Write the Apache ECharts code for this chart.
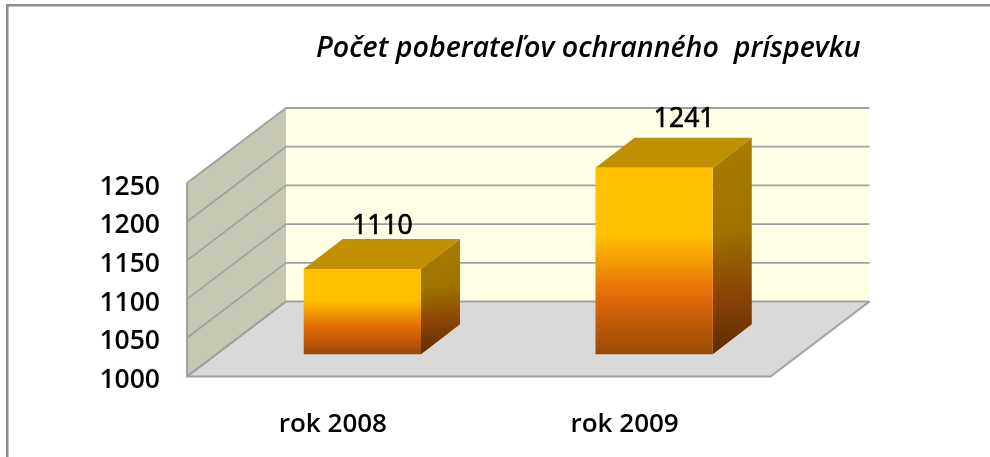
<!DOCTYPE html>
<html><head><meta charset="utf-8">
<style>html,body{margin:0;padding:0;background:#fff}#c{width:990px;height:457px}</style>
<script src="https://cdn.jsdelivr.net/npm/echarts@6/dist/echarts.min.js"></script>
</head><body><div id="c"></div>
<script>
const categories = ['rok 2008', 'rok 2009'];
const values = [1110, 1241];
const yTicks = [1000, 1050, 1100, 1150, 1200, 1250];
const titleText = 'Počet poberateľov ochranného  príspevku';

const FONT = '"Open Sans", "Noto Sans", sans-serif';
const WALL = { dx: 99, dy: -75 };
const BAR = { ox: 29.5, oy: -22.3, dx: 39, dy: -30, frac: 0.402 };
const LINE = { stroke: '#a0a0a0', lineWidth: 1.8 };
const LABEL_OFFSET = [[20, -44], [30, -49]];

function poly(pts, style, z2) {
  return { type: 'polygon', shape: { points: pts }, style: style, z2: z2 || 0, silent: true };
}
function wallsItem(params, api) {
  const cs = params.coordSys;
  const l = cs.x, r = cs.x + cs.width, t = cs.y, b = cs.y + cs.height;
  const d = WALL;
  return { type: 'group', children: [
    poly([[l + d.dx, t + d.dy], [r + d.dx, t + d.dy], [r + d.dx, b + d.dy], [l + d.dx, b + d.dy]], { fill: '#ffffe5' }),
    poly([[l, t], [l + d.dx, t + d.dy], [l + d.dx, b + d.dy], [l, b]], { fill: '#c7c8b4' }),
    poly([[l, b], [l + d.dx, b + d.dy], [r + d.dx, b + d.dy], [r, b]], { fill: '#d9d9d9' }),
    { type: 'polyline', silent: true, shape: { points: [[l, t], [l, b], [r, b], [r + d.dx, b + d.dy]] }, style: { fill: 'none', stroke: LINE.stroke, lineWidth: 2 }, z2: 2 },
    { type: 'line', silent: true, shape: { x1: l, y1: b, x2: l + d.dx, y2: b + d.dy }, style: LINE, z2: 2 }
  ]};
}
function gridItem(params, api) {
  const cs = params.coordSys;
  const y = api.coord([0, api.value(1)])[1];
  const l = cs.x, r = cs.x + cs.width, d = WALL;
  return { type: 'polyline', silent: true, shape: { points: [[l, y], [l + d.dx, y + d.dy], [r + d.dx, y + d.dy]] },
    style: { fill: 'none', stroke: LINE.stroke, lineWidth: LINE.lineWidth }, z2: 1 };
}
function barItem(params, api) {
  const i = api.value(0), v = api.value(1);
  const c = api.coord([i, v]), base = api.coord([i, yTicks[0]]);
  const w = api.size([1, 0])[0] * BAR.frac;
  const x0 = c[0] - w / 2 + BAR.ox, x1 = x0 + w;
  const yt = c[1] + BAR.oy, yb = base[1] + BAR.oy;
  const dx = BAR.dx, dy = BAR.dy;
  const front = { type: 'linear', x: 0, y: 0, x2: 0, y2: 1, colorStops: [
    { offset: 0, color: '#ffc000' }, { offset: 0.36, color: '#ffc000' },
    { offset: 0.68, color: '#e46c0a' }, { offset: 1, color: '#984807' }] };
  const side = { type: 'linear', x: 0, y: 0, x2: 0.25, y2: 1, colorStops: [
    { offset: 0, color: '#a87d00' }, { offset: 0.42, color: '#9f7300' },
    { offset: 0.72, color: '#8c4406' }, { offset: 1, color: '#5e2c02' }] };
  const off = LABEL_OFFSET[i];
  return { type: 'group', children: [
    poly([[x0, yt], [x0 + dx, yt + dy], [x1 + dx, yt + dy], [x1, yt]], { fill: '#c09000' }),
    poly([[x1, yt], [x1 + dx, yt + dy], [x1 + dx, yb + dy], [x1, yb]], { fill: side }),
    poly([[x0, yt], [x1, yt], [x1, yb], [x0, yb]], { fill: front }),
    { type: 'text', silent: true, z2: 5, style: { text: String(v), x: c[0] + BAR.ox + off[0], y: yt + off[1] + 1,
      align: 'center', verticalAlign: 'middle', font: '26.5px "Open Sans", sans-serif', fill: '#000', stroke: '#000', lineWidth: 0.7 } }
  ]};
}

const chart = echarts.init(document.getElementById('c'), null, { renderer: 'canvas' });
chart.setOption({
  animation: false,
  backgroundColor: '#fff',
  title: { text: titleText, left: 311, top: 29,
    textStyle: { fontFamily: FONT, fontStyle: 'italic', fontWeight: 600, fontSize: 28.6, color: '#000' } },
  grid: { left: 187, top: 183, width: 583.5, height: 193.5 },
  xAxis: { type: 'category', data: categories, axisLine: { show: false }, axisTick: { show: false }, splitLine: { show: false },
    axisLabel: { margin: 35, fontFamily: FONT, fontWeight: 600, fontSize: 26, color: '#000' } },
  yAxis: { type: 'value', min: yTicks[0], max: yTicks[yTicks.length - 1], interval: 50, axisLine: { show: false }, axisTick: { show: false }, splitLine: { show: false },
    axisLabel: { margin: 27, color: '#000', formatter: v => '{a|' + v + '}',
      rich: { a: { fontFamily: FONT, fontWeight: 600, fontSize: 26.5, color: '#000', padding: [8, 0, 0, 0] } } } },
  graphic: [{ type: 'polyline', silent: true, z: 100, shape: { points: [[7.3, 457], [7.3, 5.3], [990, 5.3]] }, style: { fill: 'none', stroke: '#8c8c8c', lineWidth: 2.5 } }],
  series: [
    { type: 'custom', coordinateSystem: 'cartesian2d', z: 1, clip: false, data: [[0, yTicks[0]]], renderItem: wallsItem, silent: true },
    { type: 'custom', coordinateSystem: 'cartesian2d', z: 2, clip: false, data: yTicks.map(t => [0, t]), renderItem: gridItem, silent: true },
    { type: 'custom', coordinateSystem: 'cartesian2d', z: 3, clip: false, data: values.map((v, i) => [i, v]), encode: { x: 0, y: 1 }, renderItem: barItem, silent: true }
  ]
});
</script></body></html>
